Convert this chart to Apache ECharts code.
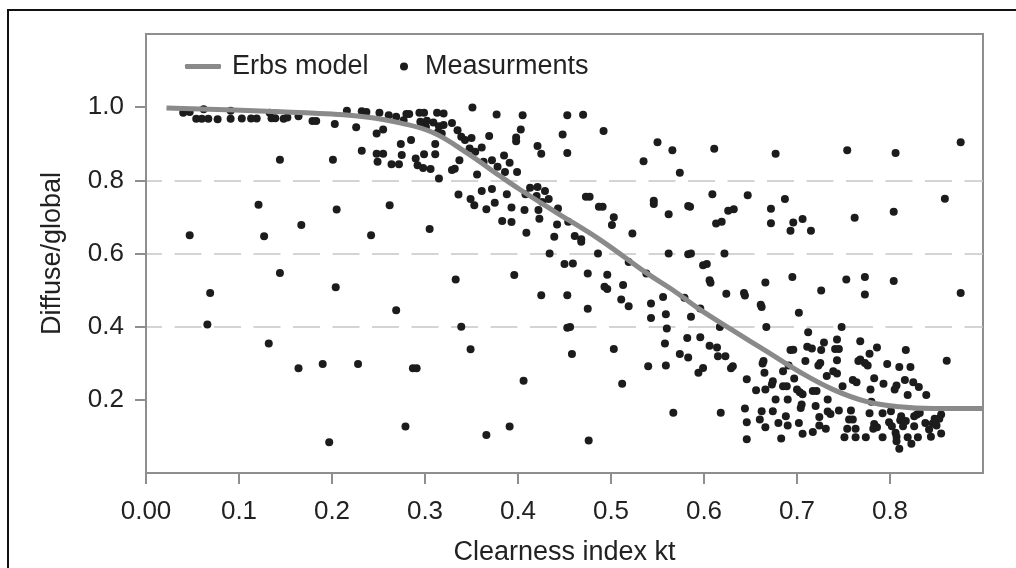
<!DOCTYPE html>
<html>
<head>
<meta charset="utf-8">
<script src="https://cdn.jsdelivr.net/npm/echarts@6/dist/echarts.min.js"></script>
<style>
html, body { margin: 0; padding: 0; background: #fff; }
#chart { width: 1016px; height: 568px; }
</style>
</head>
<body>
<div id="chart"></div>
<script>
// ticks
var xTicks = [0, 0.1, 0.2, 0.3, 0.4, 0.5, 0.6, 0.7, 0.8];
var yTicks = [0.2, 0.4, 0.6, 0.8, 1.0];

// Erbs model curve
var curveKt = [0.022, 0.13, 0.20, 0.237, 0.273, 0.309, 0.345, 0.381, 0.402, 0.44, 0.488, 0.538,
  0.566, 0.595, 0.631, 0.667, 0.703, 0.739, 0.774, 0.81, 0.846, 0.90];
var curveKd = [0.998, 0.989, 0.981, 0.973, 0.957, 0.930, 0.875, 0.811, 0.775, 0.714, 0.638, 0.547,
  0.501, 0.448, 0.390, 0.333, 0.276, 0.228, 0.196, 0.181, 0.176, 0.176];

// measurements [kt, diffuse/global]
var measurements = [
  [0.040,0.985],[0.047,0.987],[0.062,0.994],[0.054,0.968],[0.060,0.968],[0.067,0.968],[0.077,0.967],
  [0.091,0.990],[0.091,0.968],[0.103,0.969],[0.113,0.969],[0.119,0.969],[0.133,0.985],[0.135,0.970],
  [0.139,0.970],[0.148,0.968],[0.152,0.972],[0.164,0.975],[0.179,0.962],[0.183,0.962],[0.203,0.954],
  [0.216,0.990],[0.226,0.945],[0.144,0.856],[0.201,0.856],[0.121,0.733],[0.205,0.720],[0.167,0.678],
  [0.047,0.650],[0.127,0.647],[0.144,0.547],
  [0.232,0.989],[0.237,0.987],[0.251,0.985],[0.261,0.978],[0.269,0.974],[0.277,0.964],[0.280,0.981],
  [0.283,0.981],[0.294,0.985],[0.299,0.985],[0.295,0.960],[0.302,0.963],[0.296,0.953],[0.301,0.946],
  [0.309,0.958],[0.313,0.985],[0.320,0.983],[0.315,0.948],[0.320,0.951],[0.314,0.932],[0.318,0.928],
  [0.329,0.957],[0.335,0.937],[0.339,0.919],[0.343,0.910],[0.351,0.999],[0.350,0.916],[0.348,0.887],
  [0.354,0.878],[0.361,0.890],[0.369,0.921],[0.377,0.980],[0.405,0.978],[0.403,0.939],[0.398,0.917],
  [0.398,0.907],[0.421,0.894],[0.425,0.873],
  [0.248,0.928],[0.255,0.939],[0.232,0.881],[0.248,0.873],[0.255,0.873],[0.249,0.851],[0.264,0.844],
  [0.272,0.844],[0.274,0.899],[0.275,0.869],[0.285,0.910],[0.290,0.860],[0.292,0.841],[0.299,0.871],
  [0.298,0.834],[0.306,0.831],[0.311,0.899],[0.311,0.871],[0.315,0.805],[0.329,0.828],[0.332,0.832],
  [0.337,0.855],[0.356,0.816],[0.363,0.851],[0.372,0.855],[0.378,0.837],[0.385,0.868],[0.386,0.823],
  [0.391,0.848],[0.399,0.823],
  [0.336,0.761],[0.349,0.749],[0.353,0.732],[0.361,0.771],[0.366,0.721],[0.372,0.776],[0.375,0.739],
  [0.388,0.762],[0.393,0.726],[0.383,0.689],[0.393,0.686],[0.407,0.719],[0.408,0.762],[0.413,0.780],
  [0.421,0.782],[0.420,0.757],[0.429,0.771],[0.426,0.741],[0.433,0.749],[0.422,0.719],[0.423,0.695],
  [0.409,0.657],[0.442,0.679],[0.439,0.646],[0.443,0.723],[0.434,0.600],
  [0.262,0.732],[0.242,0.650],[0.305,0.667],[0.333,0.529],[0.396,0.541],
  [0.453,0.978],[0.470,0.979],[0.448,0.925],[0.453,0.875],[0.492,0.935],[0.550,0.904],[0.566,0.882],
  [0.535,0.852],[0.574,0.821],[0.611,0.886],
  [0.473,0.755],[0.477,0.755],[0.487,0.728],[0.491,0.728],[0.454,0.687],[0.503,0.699],[0.501,0.678],
  [0.523,0.655],[0.461,0.648],[0.468,0.639],[0.468,0.632],[0.546,0.744],[0.546,0.735],[0.562,0.707],
  [0.583,0.730],[0.585,0.728],[0.609,0.762],[0.647,0.759],[0.613,0.682],[0.619,0.687],[0.626,0.717],
  [0.632,0.721],
  [0.486,0.600],[0.562,0.600],[0.583,0.598],[0.586,0.600],[0.622,0.600],[0.450,0.571],[0.459,0.573],
  [0.475,0.545],[0.496,0.542],[0.519,0.577],[0.538,0.545],[0.599,0.568],[0.603,0.571],[0.606,0.527],
  [0.677,0.873],[0.754,0.882],[0.806,0.875],[0.876,0.904],[0.687,0.749],[0.672,0.722],[0.672,0.683],
  [0.696,0.685],[0.706,0.694],[0.693,0.662],[0.715,0.662],[0.762,0.698],[0.804,0.714],[0.859,0.750],
  [0.695,0.536],[0.666,0.521],[0.753,0.529],[0.773,0.536],[0.804,0.525],
  [0.069,0.492],[0.066,0.406],[0.204,0.508],[0.132,0.354],[0.164,0.286],[0.190,0.298],[0.228,0.298],
  [0.197,0.084],[0.269,0.445],[0.287,0.286],[0.291,0.286],[0.279,0.127],[0.339,0.400],[0.349,0.338],
  [0.366,0.104],[0.391,0.127],[0.425,0.486],[0.406,0.252],
  [0.453,0.486],[0.493,0.509],[0.496,0.503],[0.513,0.514],[0.475,0.449],[0.511,0.474],[0.519,0.456],
  [0.543,0.463],[0.556,0.481],[0.543,0.424],[0.559,0.434],[0.579,0.479],[0.596,0.450],[0.586,0.427],
  [0.607,0.520],[0.624,0.490],[0.643,0.492],[0.644,0.485],[0.661,0.460],[0.662,0.454],
  [0.453,0.397],[0.456,0.399],[0.560,0.395],[0.617,0.399],[0.458,0.325],[0.503,0.339],[0.558,0.354],
  [0.582,0.369],[0.596,0.371],[0.606,0.348],[0.614,0.343],[0.574,0.325],[0.583,0.316],[0.615,0.319],
  [0.623,0.319],[0.540,0.292],[0.559,0.294],[0.594,0.274],[0.599,0.287],[0.629,0.286],[0.631,0.292],
  [0.646,0.256],[0.656,0.226],[0.512,0.244],[0.567,0.165],[0.618,0.165],[0.644,0.176],[0.646,0.139],
  [0.646,0.092],[0.476,0.089],[0.660,0.146],[0.662,0.169],
  [0.726,0.499],[0.773,0.488],[0.876,0.492],[0.702,0.438],[0.667,0.399],[0.748,0.399],[0.712,0.385],
  [0.729,0.357],[0.743,0.365],[0.768,0.360],[0.786,0.343],[0.817,0.336],[0.861,0.307],[0.693,0.336],
  [0.696,0.337],[0.711,0.345],[0.716,0.340],[0.726,0.336],[0.741,0.339],[0.745,0.339],[0.778,0.326],
  [0.664,0.306],[0.663,0.299],[0.665,0.274],[0.691,0.294],[0.709,0.306],[0.723,0.294],[0.725,0.301],
  [0.743,0.308],[0.766,0.306],[0.768,0.310],[0.773,0.301],[0.776,0.294],[0.797,0.298],[0.810,0.290],
  [0.822,0.290],[0.685,0.278],[0.732,0.265],[0.739,0.278],[0.743,0.272],[0.760,0.254],[0.764,0.248],
  [0.783,0.259],[0.793,0.244],[0.807,0.239],[0.805,0.228],[0.816,0.254],[0.825,0.248],[0.831,0.235],
  [0.839,0.213],[0.819,0.213],[0.674,0.251],[0.673,0.242],[0.666,0.228],[0.697,0.258],[0.685,0.237],
  [0.689,0.237],[0.700,0.228],[0.703,0.221],[0.706,0.215],[0.717,0.224],[0.721,0.224],[0.749,0.237],
  [0.779,0.228],[0.677,0.201],[0.690,0.201],[0.733,0.201],[0.780,0.195],[0.674,0.169],[0.705,0.187],
  [0.704,0.178],[0.720,0.183],[0.733,0.168],[0.736,0.161],[0.745,0.171],[0.758,0.171],[0.778,0.163],
  [0.792,0.163],[0.801,0.169],[0.812,0.155],[0.826,0.155],[0.829,0.160],[0.832,0.164],[0.848,0.148],
  [0.855,0.160],[0.853,0.148],[0.666,0.125],[0.680,0.137],[0.688,0.155],[0.690,0.130],[0.702,0.137],
  [0.724,0.153],[0.724,0.130],[0.731,0.121],[0.756,0.146],[0.760,0.146],[0.754,0.121],[0.763,0.121],
  [0.783,0.134],[0.782,0.121],[0.786,0.125],[0.799,0.139],[0.802,0.128],[0.806,0.110],[0.811,0.144],
  [0.814,0.128],[0.817,0.142],[0.826,0.128],[0.838,0.137],[0.842,0.119],[0.846,0.135],[0.850,0.130],
  [0.855,0.108],[0.683,0.094],[0.706,0.107],[0.717,0.112],[0.751,0.098],[0.763,0.098],[0.774,0.098],
  [0.792,0.098],[0.807,0.099],[0.807,0.087],[0.810,0.066],[0.819,0.098],[0.830,0.098],[0.823,0.080],
  [0.844,0.099]
];

var FONT = '"Liberation Sans", Arial, Helvetica, sans-serif';
var TXT = '#222';
var AXC = '#8e8e8e';

var curve = curveKt.map(function (k, i) { return [k, curveKd[i]]; });

var chart = echarts.init(document.getElementById('chart'));
chart.setOption({
  backgroundColor: '#fff',
  animation: false,
  textStyle: { fontFamily: FONT },
  graphic: [{
    type: 'rect',
    shape: { x: 8, y: 10, width: 1100, height: 700 },
    style: { fill: 'none', stroke: '#111', lineWidth: 2 },
    silent: true
  }],
  grid: {
    left: 146, right: 33, top: 34, bottom: 95,
    outerBoundsMode: 'none',
    show: true, borderColor: AXC, borderWidth: 2
  },
  legend: [{
    data: [{ name: 'Erbs model', icon: 'roundRect' }],
    left: 185, top: 53, padding: 0,
    itemWidth: 36, itemHeight: 5,
    itemStyle: { color: '#8a8a8a' },
    textStyle: { fontSize: 27, color: TXT, fontFamily: FONT, padding: [0, 0, 0, 6] }
  }, {
    data: [{ name: 'Measurments', icon: 'circle' }],
    left: 400, top: 53, padding: 0,
    itemWidth: 8, itemHeight: 8,
    textStyle: { fontSize: 27, color: TXT, fontFamily: FONT, padding: [0, 0, 0, 12] }
  }],
  xAxis: {
    type: 'value', min: 0, max: 0.9, interval: 0.1,
    name: 'Clearness index kt', nameLocation: 'middle', nameGap: 66,
    nameTextStyle: { fontSize: 27, color: TXT, fontFamily: FONT },
    axisLine: { lineStyle: { color: AXC, width: 2 } },
    axisTick: { show: true, customValues: xTicks, length: 11, lineStyle: { color: AXC, width: 2 } },
    axisLabel: {
      customValues: xTicks, margin: 26, fontSize: 26, color: TXT, fontFamily: FONT,
      formatter: function (v) { return v === 0 ? '0.00' : v.toFixed(1); }
    },
    splitLine: { show: false }
  },
  yAxis: {
    type: 'value', min: 0, max: 1.2, interval: 0.2,
    name: 'Diffuse/global', nameLocation: 'middle', nameGap: 80,
    nameTextStyle: { fontSize: 27, color: TXT, fontFamily: FONT },
    axisLine: { show: true, lineStyle: { color: AXC, width: 2 } },
    axisTick: { show: true, customValues: yTicks, length: 11, lineStyle: { color: AXC, width: 2 } },
    axisLabel: {
      customValues: yTicks, margin: 22, fontSize: 26, color: TXT, fontFamily: FONT,
      formatter: function (v) { return v.toFixed(1); }
    },
    splitLine: {
      show: true, showMinLine: false, showMaxLine: false,
      lineStyle: { color: '#c6c6c6', width: 1.5, type: [27, 12.5], dashOffset: 11 }
    }
  },
  series: [{
    name: 'Erbs model',
    type: 'line',
    data: curve,
    smooth: 0.4,
    showSymbol: false,
    symbol: 'none',
    itemStyle: { color: '#8a8a8a' },
    lineStyle: { color: '#8a8a8a', width: 5 }
  }, {
    name: 'Measurments',
    type: 'scatter',
    data: measurements,
    symbolSize: 8,
    itemStyle: { color: '#1c1c1c', opacity: 1 }
  }]
});
</script>
</body>
</html>
